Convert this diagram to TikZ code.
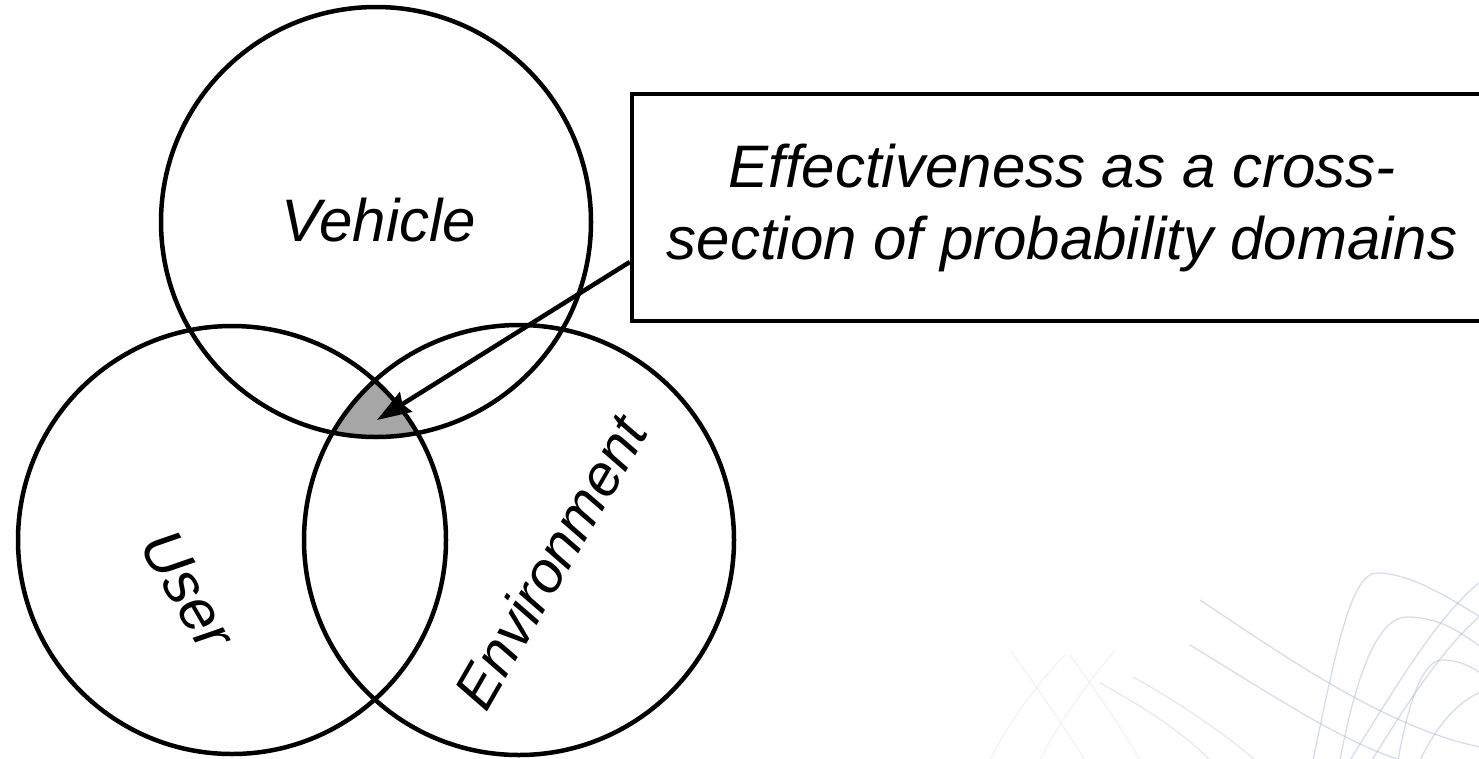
\documentclass[tikz,border=0pt]{standalone}
\usepackage{fontspec}
\setmainfont{Liberation Sans}
\usetikzlibrary{arrows.meta}
\definecolor{coregray}{HTML}{A6A6A6}
\definecolor{swirl}{RGB}{178,192,216}
\tikzset{
  venn/.style={draw=black, line width=4.5pt},
  lbl/.style={font=\fontsize{60}{72}\selectfont\itshape, inner sep=0pt},
  callout/.style={draw=black, line width=4.5pt, rectangle, minimum width=860pt, minimum height=227pt,
    align=center, inner sep=0pt, font=\fontsize{60}{72}\selectfont\itshape},
  pointer/.style={line width=4.5pt, -{Stealth[length=34pt, width=23pt, inset=4pt]}},
  deco/.style={draw=swirl, line width=1.3pt, opacity=0.55}
}
\begin{document}
\begin{tikzpicture}[x=1pt, y=-1pt]
\useasboundingbox (0,0) rectangle (1479,758);
% decorative background swirls
\begin{scope}
\clip (0,0) rectangle (1479,758);
\draw[deco] (1313,760) .. controls (1338,640) and (1352,573) .. (1377,573) .. controls (1410,573) and (1450,598) .. (1485,620);
\draw[deco] (1340,760) .. controls (1358,665) and (1380,617) .. (1407,617) .. controls (1440,617) and (1460,632) .. (1485,650);
\draw[deco] (1398,760) .. controls (1408,705) and (1422,660) .. (1442,660) .. controls (1460,660) and (1472,667) .. (1485,676);
\draw[deco] (1350,760) .. controls (1400,680) and (1440,612) .. (1485,578);
\draw[deco] (1372,760) .. controls (1415,690) and (1450,640) .. (1485,612);
\draw[deco] (1420,760) .. controls (1440,720) and (1460,700) .. (1485,690);
\draw[deco] (1200,600) .. controls (1290,660) and (1390,730) .. (1485,748);
\draw[deco] (1190,645) .. controls (1280,700) and (1340,740) .. (1400,760);
\draw[deco, opacity=0.35] (1100,683) .. controls (1140,705) and (1180,730) .. (1210,760);
\draw[deco, opacity=0.35] (1133,677) .. controls (1175,700) and (1220,730) .. (1255,760);
\draw[deco, opacity=0.2] (990,760) .. controls (1010,720) and (1040,680) .. (1065,655);
\draw[deco, opacity=0.2] (1040,760) .. controls (1060,720) and (1090,680) .. (1115,650);
\draw[deco, opacity=0.2] (1010,650) .. controls (1035,685) and (1060,720) .. (1085,760);
\draw[deco, opacity=0.2] (1070,655) .. controls (1095,690) and (1120,725) .. (1140,760);
\end{scope}
% circle centres
\coordinate (vc) at (376,222);
\coordinate (uc) at (232,540);
\coordinate (ec) at (519,540);
% common area
\begin{scope}
\clip (vc) circle (215pt);
\clip (uc) circle (214pt);
\fill[coregray] (ec) circle (215pt);
\end{scope}
\draw[venn] (vc) circle (215pt);
\draw[venn] (uc) circle (214pt);
\draw[venn] (ec) circle (215pt);
% labels
\node[lbl] (vehicle) at (379,220) {Vehicle};
\node[lbl, rotate=-60] (user) at (188,590) {User};
\node[lbl, rotate=60, font=\fontsize{58}{70}\selectfont\itshape] (env) at (550,562) {Environment};
% callout
\node[callout] (box) at (1062,207.5) {Effectiveness as a cross-\\section of probability domains};
\coordinate (from) at ([yshift=-54.5pt]box.west);
\coordinate (core) at (377,420);
\draw[pointer] (from) -- (core);
\end{tikzpicture}
\end{document}
